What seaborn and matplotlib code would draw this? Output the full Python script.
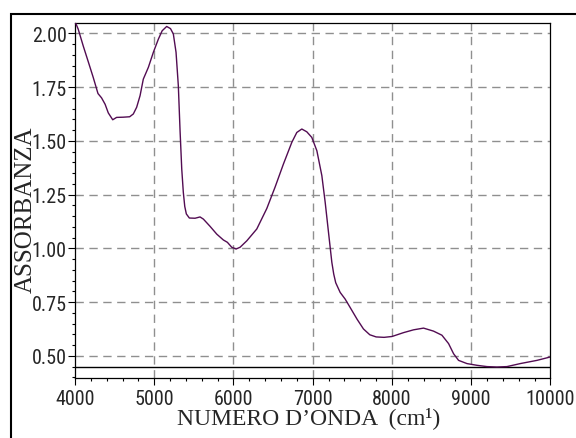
import numpy as np
import pandas as pd
import matplotlib
matplotlib.use("Agg")
import matplotlib.pyplot as plt
from matplotlib import font_manager
from matplotlib.patches import Rectangle
from matplotlib.ticker import MultipleLocator
import seaborn as sns

# wavenumber (cm-1) and absorbance
wavenumber = [4000, 4040, 4105, 4170, 4230, 4290, 4335, 4380, 4420, 4476,
              4525, 4610, 4690, 4736, 4778, 4821, 4862, 4926, 4989, 5052,
              5100, 5157, 5205, 5241, 5275, 5304, 5326, 5347, 5367, 5385,
              5405, 5443, 5515, 5578, 5620, 5705, 5789, 5872, 5923, 5978,
              6033, 6083, 6168, 6294, 6420, 6525, 6630, 6736, 6799, 6862,
              6925, 6988, 7052, 7115, 7157, 7199, 7241, 7265, 7290, 7346,
              7409, 7480, 7560, 7640, 7720, 7800, 7900, 8000, 8146, 8272,
              8398, 8524, 8630, 8714, 8777, 8840, 8946, 9072, 9198, 9324,
              9451, 9619, 9830, 10000]
absorbance = [2.055, 2.02, 1.94, 1.865, 1.795, 1.72, 1.70, 1.67, 1.63, 1.598,
              1.609, 1.61, 1.612, 1.625, 1.656, 1.71, 1.787, 1.842, 1.912, 1.973,
              2.012, 2.032, 2.022, 1.997, 1.912, 1.756, 1.545, 1.369, 1.26, 1.195,
              1.16, 1.141, 1.14, 1.146, 1.136, 1.102, 1.066, 1.039, 1.028, 1.005,
              0.997, 1.005, 1.035, 1.09, 1.185, 1.285, 1.392, 1.493, 1.539, 1.555,
              1.542, 1.516, 1.454, 1.338, 1.214, 1.074, 0.935, 0.88, 0.84, 0.795,
              0.764, 0.72, 0.67, 0.625, 0.598, 0.588, 0.586, 0.59, 0.608, 0.621,
              0.629, 0.615, 0.596, 0.557, 0.51, 0.479, 0.464, 0.456, 0.45, 0.448,
              0.45, 0.464, 0.479, 0.495]

x_ticks = [4000, 5000, 6000, 7000, 8000, 9000, 10000]
y_ticks = [0.50, 0.75, 1.00, 1.25, 1.50, 1.75, 2.00]
baseline = 0.448

df = pd.DataFrame({"wavenumber": wavenumber, "absorbance": absorbance})

# condensed sans for the tick labels if one is installed
installed = {f.name for f in font_manager.fontManager.ttflist}
narrow = [n for n in ["Liberation Sans Narrow", "Roboto Condensed",
                      "DejaVu Sans Condensed", "Arial Narrow"] if n in installed]
tick_size = 14.5 if narrow else 12.5

sns.set_style("ticks")
plt.rcParams["font.family"] = narrow + ["Liberation Sans", "DejaVu Sans"]

fig = plt.figure(figsize=(5.76, 4.39), dpi=100)
ax = fig.add_axes([0.1302, 0.1367, 0.8255, 0.8086])

# grid first so the curve sits on top
for xv in x_ticks[1:-1]:
    ax.axvline(xv, color="#8f8f8f", lw=1.0, ls=(0, (6, 4)), zorder=1)
for yv in y_ticks:
    ax.axhline(yv, color="#8f8f8f", lw=1.0, ls=(0, (6, 4)), zorder=1)
ax.axhline(baseline, color="black", lw=1.0, zorder=3)

sns.lineplot(data=df, x="wavenumber", y="absorbance", ax=ax, color="#520c52",
             lw=1.0, estimator=None, sort=False, zorder=4)

ax.set_xlim(4000, 10000)
ax.set_ylim(0.397, 2.048)
ax.set_xticks(x_ticks)
ax.set_yticks(y_ticks)
ax.set_yticklabels([f"{v:.2f}" for v in y_ticks])
ax.xaxis.set_minor_locator(MultipleLocator(200))
ax.yaxis.set_minor_locator(MultipleLocator(0.05))
ax.tick_params(axis="both", which="major", direction="out", length=5, width=0.8,
               color="black", labelsize=tick_size)
ax.tick_params(axis="both", which="minor", direction="out", length=2.5, width=0.8,
               color="black")
ax.tick_params(axis="y", pad=1)
ax.tick_params(axis="x", pad=3)

for side in ["left", "right", "top", "bottom"]:
    ax.spines[side].set_color("black")
    ax.spines[side].set_linewidth(0.9)

ax.set_xlabel("")
ax.set_ylabel("")
fig.text(0.0443, 0.522, "ASSORBANZA", rotation=90, ha="center", va="center",
         fontsize=18, family=["Liberation Serif", "DejaVu Serif"])
fig.text(0.535, 0.034, "NUMERO D\u2019ONDA  (cm\u00b9)", ha="center", va="baseline",
         fontsize=17, family=["Liberation Serif", "DejaVu Serif"])

# outer frame around the figure (runs off the right and bottom edges)
fig.add_artist(Rectangle((11 / 576, -0.5), 2.0, 0.9658 + 0.5,
                         transform=fig.transFigure, fill=False,
                         edgecolor="black", lw=1.5))

plt.savefig("out.png", dpi=100)
